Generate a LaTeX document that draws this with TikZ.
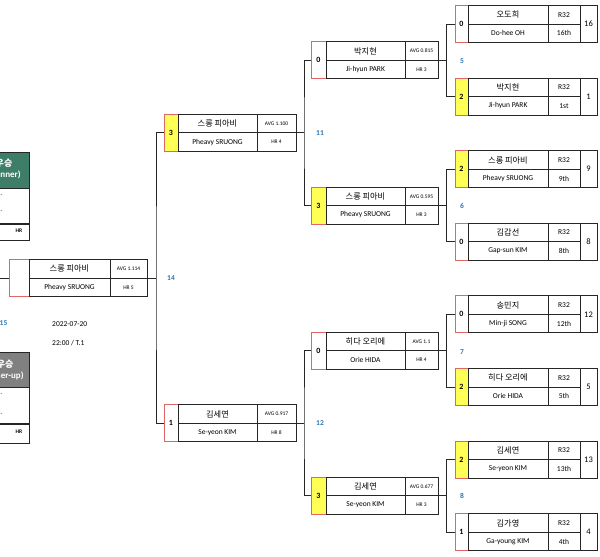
\documentclass[tikz,border=0pt]{standalone}
\usepackage{fontspec}
\setmainfont{Carlito}
\newfontfamily\kr{Noto Sans CJK KR}
\definecolor{wingreen}{HTML}{3E7D68}
\definecolor{rungrey}{HTML}{808080}
\definecolor{winyellow}{HTML}{FFFF55}
\definecolor{cellred}{HTML}{E06666}
\definecolor{matchblue}{HTML}{2E75B6}
\newcommand\krname[1]{{\kr\fontsize{8.2}{9}\selectfont #1}}
\tikzset{
  conn/.style={draw=black!85, line width=0.9pt},
  scorecell/.style={draw=cellred, line width=0.9pt, minimum height=37pt, inner sep=0pt, outer sep=0pt, font=\fontsize{8}{9}\selectfont\bfseries},
  win/.style={fill=winyellow},
  lose/.style={fill=white},
  namecell/.style={draw=black!85, line width=0.9pt, minimum height=18.5pt, inner sep=0pt, outer sep=0pt, font=\fontsize{7.5}{9}\selectfont},
  avgcell/.style={namecell, font=\fontsize{5.5}{6}\selectfont},
  seedcell/.style={namecell, minimum width=17pt, minimum height=37pt, font=\fontsize{8.5}{9}\selectfont},
  matchno/.style={text=matchblue, font=\fontsize{7.5}{9}\selectfont\bfseries, inner sep=0pt},
  info/.style={font=\fontsize{7.5}{9}\selectfont, inner sep=0pt, anchor=west},
  hdr/.style={draw=black!85, line width=0.9pt, minimum width=56pt, minimum height=36pt, inner sep=0pt, text=white, align=center, font=\fontsize{9}{11}\selectfont\bfseries},
  rowbox/.style={draw=black!85, line width=0.9pt, minimum width=56pt, inner sep=0pt, fill=white},
  dashtxt/.style={font=\fontsize{6}{7}\selectfont, inner sep=0pt},
  hrtxt/.style={font=\fontsize{5.5}{6}\selectfont\bfseries, inner sep=0pt}
}
% round of 16 entry: id, y, score, fill, korean, english, rank, seed
\newcommand\rsix[8]{%
  \node[scorecell,#4,minimum width=13pt] (#1) at (461.5,#2) {#3};
  \node[namecell,minimum width=80pt,anchor=south west] (#1-kr) at (#1.east) {\krname{#5}};
  \node[namecell,minimum width=80pt,anchor=north west] (#1-en) at (#1.east) {#6};
  \node[namecell,minimum width=32pt,anchor=south west] (#1-rd) at (#1-kr.south east) {R32};
  \node[namecell,minimum width=32pt,anchor=north west] (#1-rk) at (#1-en.north east) {#7};
  \node[seedcell,anchor=west] (#1-sd) at (#1-rd.south east) {#8};
}
% later rounds: id, x, y, score, fill, korean, english, avg, hr
\newcommand\player[9]{%
  \node[scorecell,#5,minimum width=\sw,anchor=west] (#1) at (#2,#3) {#4};
  \node[namecell,minimum width=\nw,anchor=south west] (#1-kr) at (#1.east) {\krname{#6}};
  \node[namecell,minimum width=\nw,anchor=north west] (#1-en) at (#1.east) {#7};
  \node[avgcell,minimum width=\aw,anchor=south west] (#1-avg) at (#1-kr.south east) {#8};
  \node[avgcell,minimum width=\aw,anchor=north west] (#1-hr) at (#1-en.north east) {#9};
}
\begin{document}
\begin{tikzpicture}[x=1pt,y=-1pt]
\useasboundingbox (0,0) rectangle (600,557);
\clip (0,0) rectangle (600,557);

\rsix{ra}{24}{0}{lose}{오도희}{Do-hee OH}{16th}{16}
\rsix{rb}{96.6}{2}{win}{박지현}{Ji-hyun PARK}{1st}{1}
\rsix{rc}{169.2}{2}{win}{스롱 피아비}{Pheavy SRUONG}{9th}{9}
\rsix{rd}{241.8}{0}{lose}{김갑선}{Gap-sun KIM}{8th}{8}
\rsix{re}{314.4}{0}{lose}{송민지}{Min-ji SONG}{12th}{12}
\rsix{rf}{387}{2}{win}{히다 오리에}{Orie HIDA}{5th}{5}
\rsix{rg}{459.6}{2}{win}{김세연}{Se-yeon KIM}{13th}{13}
\rsix{rh}{532.2}{1}{lose}{김가영}{Ga-young KIM}{4th}{4}

\def\sw{15pt}\def\nw{79pt}\def\aw{33pt}
\player{qa}{311}{60.3}{0}{lose}{박지현}{Ji-hyun PARK}{AVG 0.815}{HR 3}
\player{qb}{311}{205.5}{3}{win}{스롱 피아비}{Pheavy SRUONG}{AVG 0.595}{HR 3}
\player{qc}{311}{350.7}{0}{lose}{히다 오리에}{Orie HIDA}{AVG 1.1}{HR 4}
\player{qd}{311}{495.9}{3}{win}{김세연}{Se-yeon KIM}{AVG 0.677}{HR 3}

\def\sw{14pt}\def\nw{79pt}\def\aw{39pt}
\player{sa}{164}{132.9}{3}{win}{스롱 피아비}{Pheavy SRUONG}{AVG 1.100}{HR 4}
\player{sb}{164}{423.3}{1}{lose}{김세연}{Se-yeon KIM}{AVG 0.917}{HR 8}

\def\sw{20pt}\def\nw{81pt}\def\aw{37pt}
\player{fa}{9}{278.1}{}{lose}{스롱 피아비}{Pheavy SRUONG}{AVG 1.114}{HR 5}

\coordinate (j5) at (446.5,60.3);
\coordinate (j6) at (446.5,205.5);
\coordinate (j7) at (446.5,350.7);
\coordinate (j8) at (446.5,495.9);
\coordinate (j11) at (304,132.9);
\coordinate (j12) at (304,423.3);
\coordinate (j14) at (156,278.1);
\coordinate (j15) at (0,278.1);

\draw[conn] (ra.west) -| (j5) |- (rb.west);
\draw[conn] (rc.west) -| (j6) |- (rd.west);
\draw[conn] (re.west) -| (j7) |- (rf.west);
\draw[conn] (rg.west) -| (j8) |- (rh.west);
\draw[conn] (qa-avg.south east) -- (j5);
\draw[conn] (qb-avg.south east) -- (j6);
\draw[conn] (qc-avg.south east) -- (j7);
\draw[conn] (qd-avg.south east) -- (j8);
\draw[conn] (qa.west) -| (j11) |- (qb.west);
\draw[conn] (qc.west) -| (j12) |- (qd.west);
\draw[conn] (sa-avg.south east) -- (j11);
\draw[conn] (sb-avg.south east) -- (j12);
\draw[conn] (sa.west) -| (j14) |- (sb.west);
\draw[conn] (fa-avg.south east) -- (j14);
\draw[conn] (j15) -- (fa.west);

\node[matchno] (m5) at (462,61) {5};
\node[matchno] (m6) at (462,206) {6};
\node[matchno] (m7) at (462,352) {7};
\node[matchno] (m8) at (462,496) {8};
\node[matchno] (m11) at (320,133) {11};
\node[matchno] (m12) at (320,423) {12};
\node[matchno] (m14) at (171,278) {14};
\node[matchno,anchor=east] (m15) at (7.5,323) {15};
\node[info] (date) at (52,324) {2022-07-20};
\node[info] (time) at (52,343) {22:00 / T.1};

\node[hdr,fill=wingreen] (win) at (1,170) {};
\node[text=white,align=center,font=\fontsize{9}{11}\selectfont\bfseries] (win-t) at (4,169) {{\kr 우승}\\(Winner)};
\node[rowbox,minimum height=35pt,anchor=north] (win-v) at (win.south) {};
\node[rowbox,minimum height=16pt,anchor=north] (win-h) at (win-v.south) {};
\node[dashtxt] (win-d1) at (1.5,196) {-};
\node[dashtxt] (win-d2) at (1.5,212) {-};
\node[hrtxt] (win-hr) at (19,231) {HR};

\node[hdr,fill=rungrey,minimum height=35pt] (run) at (1,369.5) {{\kr 준우승}\\(Runner-up)};
\node[rowbox,minimum height=36pt,anchor=north] (run-v) at (run.south) {};
\node[rowbox,minimum height=19pt,anchor=north] (run-h) at (run-v.south) {};
\node[dashtxt] (run-d1) at (1.5,395) {-};
\node[dashtxt] (run-d2) at (1.5,415) {-};
\node[hrtxt] (run-hr) at (19,432) {HR};
\end{tikzpicture}
\end{document}
